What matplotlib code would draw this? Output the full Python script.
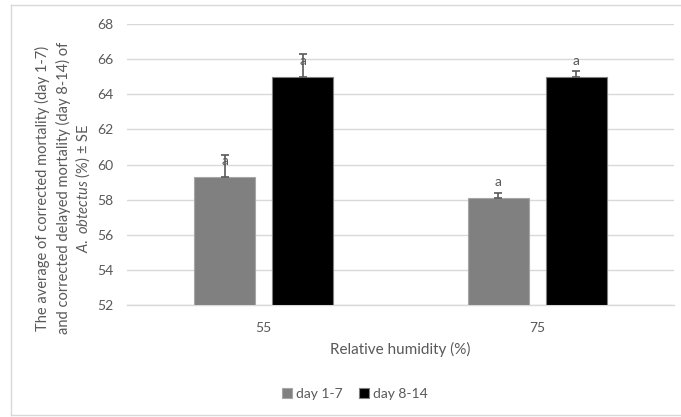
import matplotlib
matplotlib.use("Agg")
import matplotlib.pyplot as plt
import numpy as np
from matplotlib.lines import Line2D

categories = ["55", "75"]
series_names = ["day 1-7", "day 8-14"]
day1_7 = [59.3, 58.1]
day8_14 = [65.0, 65.0]
err1_7 = [1.25, 0.3]
err8_14 = [1.3, 0.3]
letters1_7 = ["a", "a"]
letters8_14 = ["a", "a"]
yticks = [52, 54, 56, 58, 60, 62, 64, 66, 68]

plt.rcParams['font.family'] = ['Lato', 'DejaVu Sans']
plt.rcParams['mathtext.fontset'] = 'custom'
plt.rcParams['mathtext.rm'] = 'Lato'
plt.rcParams['mathtext.it'] = 'Lato:italic'
txt = '#595959'

fig = plt.figure(figsize=(6.81, 4.17), dpi=100)
ax = fig.add_axes([127/681, 1-305/417, (674-127)/681, (305-24)/417])

x = np.arange(len(categories))
w = 0.223
off = 0.143
b1 = ax.bar(x - off, np.array(day1_7) - 52, w, bottom=52, color='#808080', edgecolor='#a6a6a6', linewidth=0.8,
            label=series_names[0], zorder=3)
b2 = ax.bar(x + off, np.array(day8_14) - 52, w, bottom=52, color='#000000', edgecolor='#7f7f7f', linewidth=0.8,
            label=series_names[1], zorder=3)
ax.errorbar(x - off, day1_7, yerr=[np.zeros(2), err1_7], fmt='none', ecolor='#595959', elinewidth=1.2,
            capsize=3, capthick=1.2, zorder=4)
ax.errorbar(x + off, day8_14, yerr=[np.zeros(2), err8_14], fmt='none', ecolor='#595959', elinewidth=1.2,
            capsize=3, capthick=1.2, zorder=4)
for xi, v, l in zip(x - off, day1_7, letters1_7):
    ax.annotate(l, (xi, v), xytext=(0, 11.5), textcoords='offset points', ha='center', va='center',
                color=txt, fontsize=10, zorder=5)
for xi, v, l in zip(x + off, day8_14, letters8_14):
    ax.annotate(l, (xi, v), xytext=(0, 11.5), textcoords='offset points', ha='center', va='center',
                color=txt, fontsize=10, zorder=5)

ax.set_ylim(52, 68)
ax.set_xlim(-0.5, 1.5)
ax.set_yticks(yticks)
ax.set_xticks(x)
ax.set_xticklabels(categories)
ax.yaxis.grid(True, color='#d9d9d9', linewidth=1.0, zorder=0)
ax.set_axisbelow(True)
for s in ['top', 'right', 'left']:
    ax.spines[s].set_visible(False)
ax.spines['bottom'].set_color('#d9d9d9')
ax.spines['bottom'].set_linewidth(1.0)
ax.tick_params(axis='both', length=0, labelsize=10, labelcolor=txt)
ax.tick_params(axis='y', pad=10)
ax.tick_params(axis='x', pad=12)

fig.text(400/681, 1-349/417, "Relative humidity (%)", ha='center', va='center', fontsize=11, color=txt)
ylines = ["The average of corrected mortality (day 1-7)",
          "and corrected delayed mortality (day 8-14) of",
          "$\\mathit{A.\\ obtectus}$ (%) ± SE"]
for xp, s in zip([42, 63, 83], ylines):
    fig.text(xp/681, 1-188/417, s, rotation=90, ha='center', va='center', fontsize=10.5, color=txt)

leg = fig.legend(handles=[b1, b2], labels=series_names, loc='center', bbox_to_anchor=(355/681, 1-394/417),
                 ncol=2, frameon=False, fontsize=10, handlelength=0.7, handleheight=0.7, handletextpad=0.3,
                 columnspacing=1.2, labelcolor=txt)

for (xs, ys) in [([11/681, 1], [1-5/417, 1-5/417]), ([11/681, 11/681], [1-5/417, 1-415/417]),
                 ([11/681, 1], [1-415/417, 1-415/417])]:
    fig.add_artist(Line2D(xs, ys, color='#d9d9d9', linewidth=1.0))

fig.savefig("out.png", dpi=100)
